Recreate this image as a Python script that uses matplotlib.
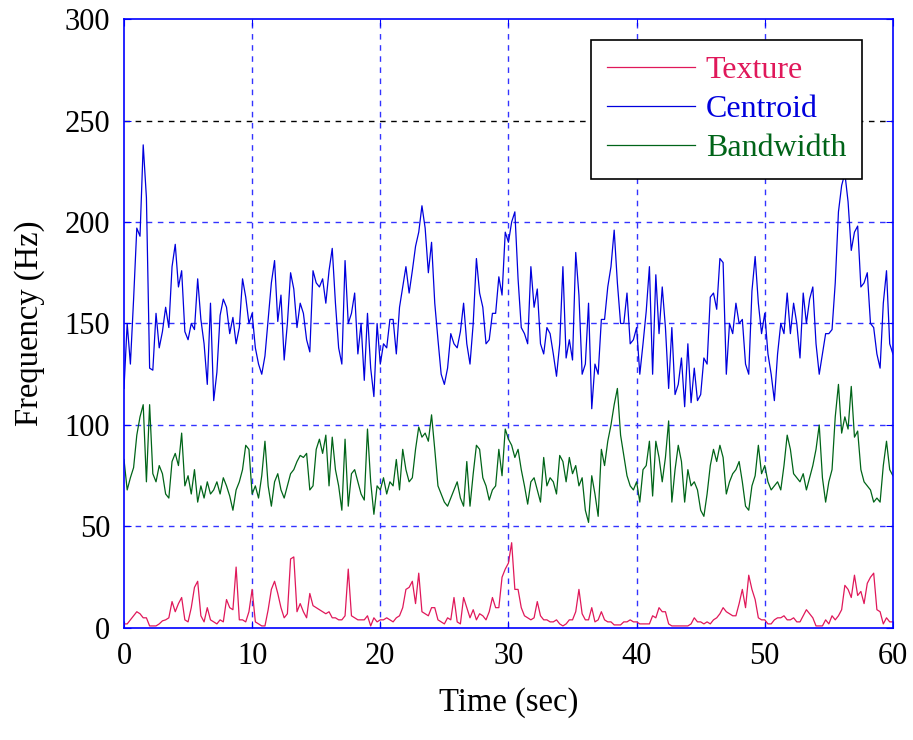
import numpy as np
import matplotlib
matplotlib.use("Agg")
import matplotlib.pyplot as plt

# values, one every 0.25 s (4 per second)
time_step = 0.25
centroid = [
    118, 150, 130, 162,  197, 193, 238, 212,  128, 127, 155, 138,  146, 158, 148, 178,  189, 168, 176, 146,
    142, 150, 147, 172,  152, 140, 120, 160,  112, 126, 154, 162,  158, 145, 153, 140,  148, 172, 163, 150,
    155, 138, 130, 125,  134, 152, 170, 181,  151, 164, 132, 150,  175, 167, 148, 160,  155, 142, 136, 176,
    170, 168, 172, 160,  176, 187, 160, 138,  130, 181, 150, 155,  165, 135, 150, 122,  155, 128, 114, 150,
    130, 140, 138, 152,  152, 135, 158, 168,  178, 165, 176, 188,  195, 208, 197, 175,  190, 160, 142, 125,
    120, 128, 145, 140,  138, 146, 160, 140,  130, 150, 182, 165,  158, 140, 142, 155,  155, 173, 164, 195,
    190, 200, 205, 172,  148, 145, 140, 178,  158, 167, 140, 135,  148, 145, 135, 124,  140, 178, 133, 142,
    132, 185, 164, 125,  130, 160, 108, 130,  125, 152, 152, 168,  178, 196, 170, 150,  150, 165, 140, 142,
    148, 125, 140, 156,  178, 125, 174, 145,  168, 148, 118, 148,  115, 120, 133, 109,  140, 111, 128, 112,
    115, 133, 130, 163,  165, 157, 182, 180,  125, 150, 145, 160,  150, 152, 130, 125,  166, 183, 160, 145,
    155, 135, 125, 112,  135, 150, 145, 165,  145, 160, 150, 133,  165, 150, 162, 168,  140, 125, 135, 145,
    145, 147, 170, 205,  218, 224, 210, 186,  195, 198, 168, 170,  175, 150, 148, 135,  128, 160, 176, 140,
    135,
]
bandwidth = [
    83, 68, 74, 79,  95, 104, 110, 72,  110, 76, 72, 80,  76, 66, 64, 82,  86, 80, 96, 70,
    75, 66, 78, 62,  70, 64, 72, 66,  68, 72, 66, 74,  70, 65, 58, 68,  72, 78, 90, 88,
    66, 70, 64, 75,  92, 70, 60, 72,  76, 68, 64, 70,  76, 78, 82, 85,  84, 86, 68, 70,
    88, 93, 86, 95,  70, 94, 78, 70,  58, 93, 60, 76,  78, 72, 66, 63,  98, 72, 56, 70,
    68, 74, 66, 72,  70, 83, 68, 88,  78, 72, 74, 88,  99, 94, 96, 92,  105, 88, 70, 66,
    62, 60, 64, 68,  72, 64, 60, 82,  60, 76, 90, 88,  74, 70, 63, 68,  70, 88, 75, 98,
    93, 90, 84, 88,  78, 70, 61, 72,  74, 68, 62, 84,  70, 74, 72, 66,  85, 82, 72, 84,
    76, 80, 70, 74,  58, 52, 75, 66,  55, 88, 80, 92,  100, 110, 118, 95,  85, 75, 70, 68,
    72, 62, 78, 80,  92, 65, 92, 84,  72, 84, 102, 62,  78, 90, 82, 62,  78, 70, 72, 68,
    58, 55, 66, 80,  88, 82, 90, 84,  66, 72, 76, 78,  82, 72, 60, 58,  70, 75, 90, 76,
    80, 72, 68, 70,  72, 68, 80, 95,  88, 76, 74, 72,  76, 68, 74, 80,  88, 100, 74, 62,
    72, 78, 104, 120,  96, 104, 98, 119,  94, 97, 78, 72,  70, 68, 62, 64,  62, 80, 92, 78,
    75,
]
texture = [
    2, 2, 4, 6,  8, 7, 5, 5,  1, 1, 1, 2,  3.5, 4, 5, 13,  8, 12, 15, 4,
    3, 10, 20, 23,  6, 3, 10, 4,  3, 2, 4, 3,  14, 10, 9, 30,  4, 4, 3, 8,
    19, 3, 2, 1,  1, 9, 19, 23,  17, 10, 5, 7,  34, 35, 8, 12,  8, 5, 17, 11,
    10, 9, 8, 7,  8, 5, 5, 4,  4, 6, 29, 6,  5, 4, 4, 4,  6, 1, 5, 3,
    4, 4, 5, 4,  3, 5, 6, 10,  19, 20, 23, 12,  27, 8, 7, 6,  10, 10, 4, 3,
    2, 5, 4, 15,  3, 2, 15, 10,  5, 9, 4, 7,  6, 4, 8, 15,  10, 10, 25, 29,
    32, 42, 19, 19,  10, 6, 5, 4,  5, 13, 6, 4,  4, 3, 3, 4,  2, 1, 2, 4,
    4, 8, 19, 7,  4, 4, 10, 3,  4, 8, 4, 3,  3, 1.5, 1.5, 1.5,  3, 3, 4, 3,
    3, 2, 2, 2,  2, 6, 5, 10,  8, 8, 2, 1,  1, 1, 1, 1,  1, 2, 5, 3,
    3, 2, 3, 2,  4, 5, 7, 10,  8, 7, 6, 6,  12, 19, 10, 26,  19, 14, 5, 4,
    4, 2, 2, 4,  5, 5, 6, 4,  4, 5, 3, 3,  6, 9, 7, 5,  1, 1, 1, 4,
    2, 6, 4, 6,  9, 21, 19, 15,  26, 16, 18, 12,  22, 25, 27, 9,  8, 2, 5, 3,
    3,
]
series_names = ["Texture", "Centroid", "Bandwidth"]
x_ticks = [0, 10, 20, 30, 40, 50, 60]
y_ticks = [0, 50, 100, 150, 200, 250, 300]

t = np.arange(len(centroid)) * time_step

plt.rcParams['font.family'] = ['Liberation Serif', 'DejaVu Serif']
fig = plt.figure(figsize=(9.13, 7.40), dpi=100)
ax = fig.add_axes([0.1358, 0.1514, 0.8422, 0.8229])

colors = ["#e0185a", "#0000dd", "#006418"]
for y, name, c in zip([texture, centroid, bandwidth], series_names, colors):
    ax.plot(t, y, color=c, lw=0.9, label=name)

ax.set_xlim(0, 60)
ax.set_ylim(0, 300)
ax.set_xticks(x_ticks)
ax.set_yticks(y_ticks)
ax.tick_params(labelsize=22, direction='in', color='#0000ff', length=5,
               top=True, right=True, pad=10)

# Matlab-like grid: blue dashed, the 250 line black
for xv in x_ticks[1:-1]:
    ax.axvline(xv, color='#3333ff', ls=(0, (4, 4)), lw=1, zorder=0)
for yv in y_ticks[1:-1]:
    gc = 'black' if yv == 250 else '#3333ff'
    ax.axhline(yv, color=gc, ls=(0, (4, 4)), lw=1, zorder=0)

for s in ax.spines.values():
    s.set_color('#0000ff')
    s.set_linewidth(1.2)

ax.set_xlabel("Time (sec)", fontsize=23.5, labelpad=12)
ax.set_ylabel("Frequency (Hz)", fontsize=23.5, labelpad=14)

leg = ax.legend(loc='upper right', bbox_to_anchor=(0.96, 0.966), fontsize=23,
                frameon=True, fancybox=False, edgecolor='black', framealpha=1,
                handlelength=2.75, handletextpad=0.35, labelspacing=0.3,
                borderpad=0.5, borderaxespad=0)
leg.get_frame().set_linewidth(1.2)
for txt, c in zip(leg.get_texts(), colors):
    txt.set_color(c)

fig.savefig("out.png", dpi=100)
